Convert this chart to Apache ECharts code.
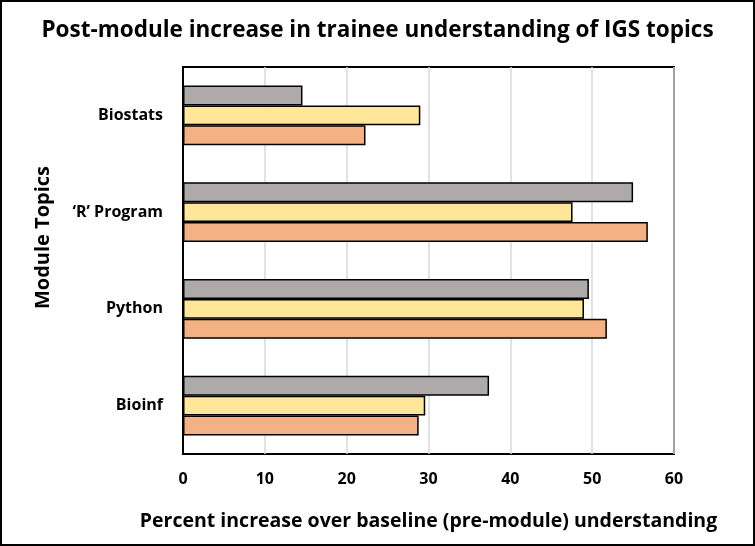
<!DOCTYPE html>
<html>
<head>
<meta charset="utf-8">
<script src="https://cdn.jsdelivr.net/npm/echarts@6/dist/echarts.min.js"></script>
<style>
html,body{margin:0;padding:0;background:#fff;}
#c{width:755px;height:546px;}
</style>
</head>
<body>
<div id="c"></div>
<script>
const categories = ['Bioinf', 'Python', '\u2018R\u2019 Program', 'Biostats'];
const seriesOrange = [28.8, 51.8, 56.8, 22.3];
const seriesYellow = [29.6, 49.0, 47.6, 29.0];
const seriesGray = [37.4, 49.6, 55.0, 14.6];
const xTicks = [0, 10, 20, 30, 40, 50, 60];

const FONT = 'Open Sans';
const chart = echarts.init(document.getElementById('c'), null, {renderer: 'canvas'});
function bar(name, data, color) {
  return {
    name: name, type: 'bar', data: data, barGap: '0%', barCategoryGap: '38%',
    itemStyle: {color: color, borderColor: '#000', borderWidth: 1.5},
    emphasis: {disabled: true}, animation: false
  };
}
chart.setOption({
  animation: false,
  backgroundColor: '#fff',
  title: {
    text: 'Post-module increase in trainee understanding of IGS topics',
    left: 'center', top: 14,
    textStyle: {fontFamily: FONT, fontWeight: 'bold', fontSize: 22.5, color: '#000'}
  },
  graphic: [{
    type: 'rect', shape: {x: 1, y: 1, width: 753, height: 544},
    style: {fill: 'none', stroke: '#000', lineWidth: 2}, silent: true, z: 100
  }],
  grid: {left: 183, right: 81, top: 67, bottom: 92, show: true, borderColor: '#000', borderWidth: 2, backgroundColor: 'transparent'},
  xAxis: {
    type: 'value', min: xTicks[0], max: xTicks[xTicks.length - 1], interval: 10,
    name: 'Percent increase over baseline (pre-module) understanding',
    nameLocation: 'middle', nameGap: 57,
    nameTextStyle: {fontFamily: FONT, fontWeight: 'bold', fontSize: 19.5, color: '#000'},
    axisLine: {show: false}, axisTick: {show: false},
    axisLabel: {fontFamily: FONT, fontWeight: 'bold', fontSize: 16, color: '#000', margin: 17},
    splitLine: {show: true, lineStyle: {color: '#d9d9d9', width: 1.5}}
  },
  yAxis: {
    type: 'category', data: categories,
    name: 'Module Topics', nameLocation: 'middle', nameGap: 130,
    nameTextStyle: {fontFamily: FONT, fontWeight: 'bold', fontSize: 20, color: '#000', padding: [0, 0, 0, 46]},
    axisLine: {show: true, lineStyle: {color: '#000', width: 2}}, axisTick: {show: false},
    axisLabel: {fontFamily: FONT, fontWeight: 'bold', fontSize: 16, color: '#000', margin: 20},
    splitLine: {show: false}
  },
  series: [
    bar('Gray', seriesGray, '#AEAAAA'),
    bar('Yellow', seriesYellow, '#FFE699'),
    bar('Orange', seriesOrange, '#F4B183')
  ]
});
</script>
</body>
</html>
